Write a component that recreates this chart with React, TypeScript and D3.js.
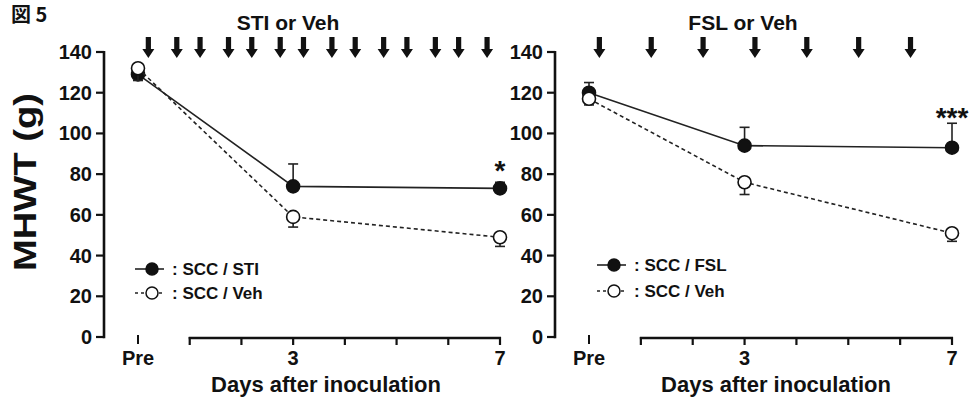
import React from "react";
import * as d3 from "d3";

// days after inoculation (Pre = day 0)
const days = [0, 3, 7];
const xTickDays = [1, 2, 3, 4, 5, 6, 7];
const xTickLabels = [
  { day: 0, label: "Pre" },
  { day: 3, label: "3" },
  { day: 7, label: "7" },
];
const yTicks = [0, 20, 40, 60, 80, 100, 120, 140];

// left panel : STI or Veh
const stiMean = [129, 74, 73];
const stiErr = [3, 11, 3];
const vehStiMean = [132, 59, 49];
const vehStiErr = [6, 5, 4.5];
const stiArrows = [0.2, 0.75, 1.2, 1.75, 2.2, 2.75, 3.2, 3.75, 4.2, 4.75, 5.2, 5.75, 6.2, 6.75];

// right panel : FSL or Veh
const fslMean = [120, 94, 93];
const fslErr = [5, 9, 12];
const vehFslMean = [117, 76, 51];
const vehFslErr = [3, 6, 4];
const fslArrows = [0.2, 1.2, 2.2, 3.2, 4.2, 5.2, 6.2];

const font = "'Liberation Sans', Arial, Helvetica, sans-serif";
const ink = "#111";

type Series = { mean: number[]; err: number[]; filled: boolean; label: string };

type PanelProps = {
  axisX: number;
  xStart: number;
  xEnd: number;
  title: string;
  titleX: number;
  series: Series[];
  arrows: number[];
  star: string;
  starY: number;
  legendX: number;
  legendY: number[];
  xLabelX: number;
};

const y = d3.scaleLinear().domain([0, 140]).range([337, 52]);

function Panel(p: PanelProps) {
  const x = d3.scaleLinear().domain([0, 7]).range([p.xStart, p.xEnd]);
  const line = d3
    .line<number>()
    .x((d, i) => x(days[i]))
    .y((d) => y(d));
  const r = 6.5;
  const y0 = y(0);

  return (
    <g>
      {/* title */}
      <text x={p.titleX} y={30} textAnchor="middle" fontSize={21} fontWeight="bold" fontFamily={font} fill={ink}>
        {p.title}
      </text>

      {/* dosing arrows */}
      {p.arrows.map((d, i) => {
        const cx = x(d);
        return (
          <path
            key={i}
            d={`M${cx - 2.6},37 L${cx + 2.6},37 L${cx + 2.6},49 L${cx + 6},49 L${cx},58 L${cx - 6},49 L${cx - 2.6},49 Z`}
            fill={ink}
          />
        );
      })}

      {/* y axis */}
      <line x1={p.axisX} x2={p.axisX} y1={y(140) - 1} y2={y0 + 1.2} stroke={ink} strokeWidth={2.6} />
      {yTicks.map((t) => (
        <g key={t}>
          <line x1={p.axisX - 8} x2={p.axisX} y1={y(t)} y2={y(t)} stroke={ink} strokeWidth={2.2} />
          <text
            x={p.axisX - 12}
            y={y(t)}
            dy="0.35em"
            textAnchor="end"
            fontSize={20}
            fontWeight="bold"
            fontFamily={font}
            fill={ink}
          >
            {t}
          </text>
        </g>
      ))}

      {/* x axis: Pre tick alone, segment from day 1 to 7 */}
      <line x1={x(0)} x2={x(0)} y1={y0 - 2} y2={y0 + 7} stroke={ink} strokeWidth={2} />
      <line x1={x(1) - 1} x2={x(7) + 1} y1={y0 + 1} y2={y0 + 1} stroke={ink} strokeWidth={2.6} />
      {xTickDays.map((d) => (
        <line key={d} x1={x(d)} x2={x(d)} y1={y0} y2={y0 + 8} stroke={ink} strokeWidth={2.2} />
      ))}
      {xTickLabels.map((t) => (
        <text
          key={t.label}
          x={x(t.day)}
          y={365}
          textAnchor="middle"
          fontSize={20}
          fontWeight="bold"
          fontFamily={font}
          fill={ink}
        >
          {t.label}
        </text>
      ))}
      <text x={p.xLabelX} y={392} textAnchor="middle" fontSize={22} fontWeight="bold" fontFamily={font} fill={ink}>
        Days after inoculation
      </text>

      {/* series: lines, error bars, markers */}
      {p.series.map((s, si) => (
        <g key={si}>
          <path
            d={line(s.mean) || ""}
            fill="none"
            stroke="#222"
            strokeWidth={1.6}
            strokeDasharray={s.filled ? undefined : "4,3"}
          />
          {s.mean.map((m, i) => {
            const end = s.filled ? m + s.err[i] : m - s.err[i];
            return (
              <g key={i}>
                <line x1={x(days[i])} x2={x(days[i])} y1={y(m)} y2={y(end)} stroke="#222" strokeWidth={1.6} />
                <line x1={x(days[i]) - 5} x2={x(days[i]) + 5} y1={y(end)} y2={y(end)} stroke="#222" strokeWidth={1.6} />
              </g>
            );
          })}
          {s.mean.map((m, i) => (
            <circle
              key={"c" + i}
              cx={x(days[i])}
              cy={y(m)}
              r={r}
              fill={s.filled ? ink : "#fff"}
              stroke={ink}
              strokeWidth={1.6}
            />
          ))}
        </g>
      ))}

      {/* significance */}
      <text x={x(7)} y={p.starY} textAnchor="middle" fontSize={28} fontWeight="bold" fontFamily={font} fill={ink}>
        {p.star}
      </text>

      {/* legend */}
      {p.series.map((s, si) => {
        const ly = p.legendY[si];
        return (
          <g key={"l" + si}>
            <line
              x1={p.legendX - 17}
              x2={p.legendX + 12}
              y1={ly}
              y2={ly}
              stroke="#222"
              strokeWidth={1.6}
              strokeDasharray={s.filled ? undefined : "3,3"}
            />
            <circle cx={p.legendX} cy={ly} r={6} fill={s.filled ? ink : "#fff"} stroke={ink} strokeWidth={1.5} />
            <text
              x={p.legendX + 20}
              y={ly}
              dy="0.35em"
              fontSize={17}
              fontWeight="bold"
              fontFamily={font}
              fill={ink}
            >
              {": " + s.label}
            </text>
          </g>
        );
      })}
    </g>
  );
}

export default function App() {
  return (
    <div style={{ position: "absolute", left: 0, top: 0 }}>
      <svg width={971} height={402} style={{ display: "block", background: "#fff" }}>
        <text x={11} y={22} fontSize={20} fontWeight="bold" fontFamily="'Noto Sans CJK JP', sans-serif" fill={ink}>
          図 5
        </text>
        <text
          transform="translate(36,182) rotate(-90)"
          textAnchor="middle"
          fontSize={31}
          fontWeight="bold"
          fontFamily={font}
          fill={ink}
          textLength={178}
          lengthAdjust="spacingAndGlyphs"
        >
          MHWT (g)
        </text>
        <Panel
          axisX={104}
          xStart={138}
          xEnd={500}
          title="STI or Veh"
          titleX={288}
          series={[
            { mean: stiMean, err: stiErr, filled: true, label: "SCC / STI" },
            { mean: vehStiMean, err: vehStiErr, filled: false, label: "SCC / Veh" },
          ]}
          arrows={stiArrows}
          star="*"
          starY={180}
          legendX={152}
          legendY={[269, 293]}
          xLabelX={326}
        />
        <Panel
          axisX={555}
          xStart={589}
          xEnd={952}
          title="FSL or Veh"
          titleX={743}
          series={[
            { mean: fslMean, err: fslErr, filled: true, label: "SCC / FSL" },
            { mean: vehFslMean, err: vehFslErr, filled: false, label: "SCC / Veh" },
          ]}
          arrows={fslArrows}
          star="***"
          starY={127}
          legendX={614}
          legendY={[265, 291]}
          xLabelX={776}
        />
      </svg>
    </div>
  );
}
